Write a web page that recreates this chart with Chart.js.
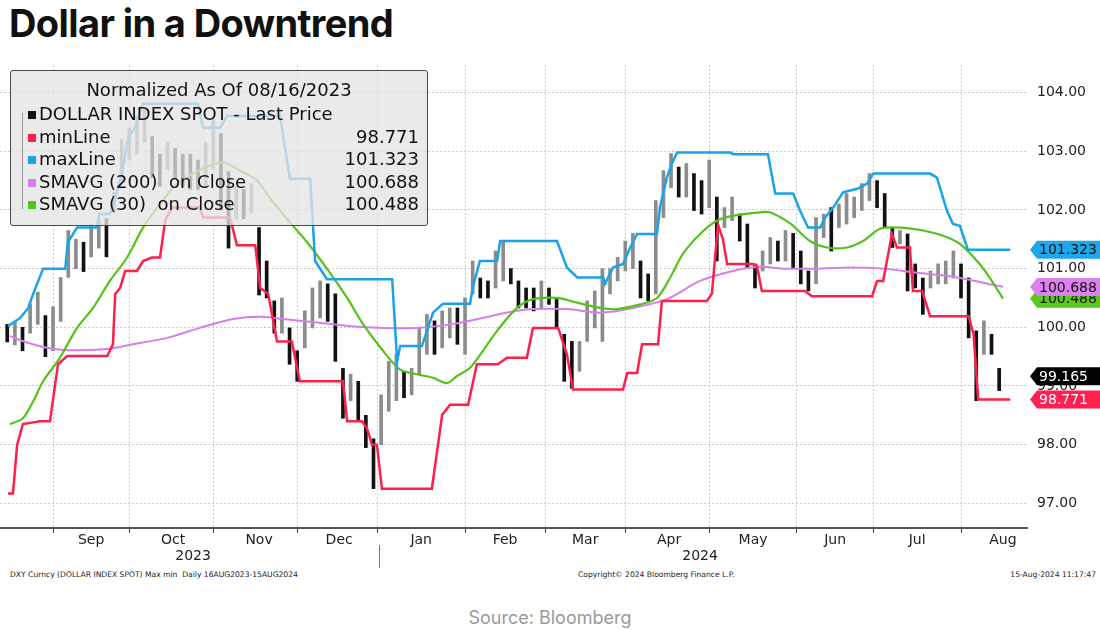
<!DOCTYPE html>
<html>
<head>
<meta charset="utf-8">
<script src="https://cdn.jsdelivr.net/npm/chart.js@4.4.1/dist/chart.umd.min.js"></script>
<style>
  body { margin:0; background:#fff; width:1100px; height:630px; overflow:hidden; position:relative; font-family:"DejaVu Sans", sans-serif; }
  #title { position:absolute; left:9px; top:0px; font-family:Inter, Roboto, sans-serif; font-weight:700; font-size:38px; letter-spacing:-0.6px; color:#111; white-space:nowrap; }
  #wrap { position:absolute; left:0; top:0; width:1100px; height:570px; }
  #legend { position:absolute; left:10px; top:70px; width:416px; height:154px; background:rgba(228,228,228,0.78); border:1.5px solid #4a4a4a; border-radius:3px; font-size:18px; color:#111; }
  #legend .t { position:absolute; left:0; width:100%; text-align:center; top:8px; line-height:22px; }
  #legend .r { position:absolute; left:17px; right:8px; height:22px; line-height:22px; white-space:nowrap; }
  #legend .sq { display:inline-block; width:8px; height:8px; margin-right:3px; vertical-align:1px; }
  #legend .v { position:absolute; right:0; top:0; }
  #tree { position:absolute; left:11px; top:42px; width:1px; height:96px; background:#9a9a9a; }
  .foot { position:absolute; top:570px; font-size:7.6px; color:#222; white-space:nowrap; }
  #source { position:absolute; top:607px; left:0; width:1100px; text-align:center; font-family:Inter, Roboto, sans-serif; font-size:18px; color:#9a9a9a; }
</style>
</head>
<body>
<div id="title">Dollar in a Downtrend</div>
<div id="wrap"><canvas id="c" width="1100" height="570"></canvas></div>
<div id="legend">
  <div class="t">Normalized As Of 08/16/2023</div>
  <div id="tree"></div>
  <div class="r" style="top:32px"><span class="sq" style="background:#111"></span>DOLLAR INDEX SPOT - Last Price</div>
  <div class="r" style="top:55px"><span class="sq" style="background:#ff1f4b"></span>minLine<span class="v" id="v0"></span></div>
  <div class="r" style="top:77px"><span class="sq" style="background:#1aa3e8"></span>maxLine<span class="v" id="v1"></span></div>
  <div class="r" style="top:100px"><span class="sq" style="background:#d77ee8"></span>SMAVG (200)&nbsp; on Close<span class="v" id="v2"></span></div>
  <div class="r" style="top:122px"><span class="sq" style="background:#55c21b"></span>SMAVG (30)&nbsp; on Close<span class="v" id="v3"></span></div>
</div>
<div class="foot" style="left:10px">DXY Curncy (DOLLAR INDEX SPOT) Max min&nbsp; Daily 16AUG2023-15AUG2024</div>
<div class="foot" style="left:578px">Copyright© 2024 Bloomberg Finance L.P.</div>
<div class="foot" style="right:4px">15-Aug-2024 11:17:47</div>
<div id="source">Source: Bloomberg</div>
<script>
// ---- axis labels / ticks (trading-day index from 16 Aug 2023) ----
const monthStarts = [12, 32, 54, 76, 97, 120, 141, 162, 184, 207, 227, 250];
const monthMids   = [22, 43.5, 66, 87, 108.5, 130.5, 151.5, 173.5, 195.5, 217, 238.5, 261];
const monthLabels = ['Sep','Oct','Nov','Dec','Jan','Feb','Mar','Apr','May','Jun','Jul','Aug'];
const yearMids    = [48.7, 181.6];
const yearLabels  = ['2023', '2024'];
const yearSplit   = 97.5;
const yTicks      = [97, 98, 99, 100, 101, 102, 103, 104];

// ---- DXY price bars, one per two trading days (low / high) ----
const barLow = [99.75,99.70,99.60,99.90,100.05,99.50,99.60,100.10,100.85,101.00,100.95,101.20,101.35,101.20,101.95,102.50,102.85,102.95,103.15,102.55,102.40,102.70,102.55,102.40,102.35,102.35,102.40,102.70,102.00,101.35,101.85,101.85,101.95,100.55,100.50,99.90,99.90,99.37,99.08,99.65,99.99,100.16,100.10,99.42,98.45,98.75,98.40,97.95,97.25,98.00,98.57,98.75,98.80,98.85,99.20,99.54,99.54,99.65,99.82,99.71,99.54,100.57,100.50,100.50,100.67,100.79,100.74,100.33,100.33,100.28,100.33,100.39,99.99,99.08,98.96,99.25,99.76,99.99,99.76,100.57,100.79,100.96,101.00,100.50,100.45,100.57,101.87,102.38,102.22,102.22,101.99,101.93,102.04,101.13,101.70,101.82,101.47,101.00,100.67,100.96,101.08,101.13,101.13,101.00,100.74,100.62,100.74,101.53,101.30,101.70,101.76,101.87,101.99,102.16,102.04,101.70,101.36,101.42,100.62,100.67,100.22,100.67,100.74,100.74,100.84,100.50,99.82,98.75,99.54,99.54,98.92];
const barHigh = [100.05,100.10,100.00,100.40,100.60,100.20,100.35,100.85,101.65,101.50,101.45,101.75,101.85,101.85,102.30,103.20,103.40,103.60,103.75,103.25,102.95,103.15,103.05,102.95,102.95,102.85,103.15,103.55,103.30,102.65,102.40,102.35,102.45,101.70,101.13,100.45,100.50,99.99,99.60,100.28,100.67,100.79,100.74,100.57,99.30,99.20,99.08,98.50,98.10,98.85,99.42,99.54,99.25,99.30,99.99,100.22,100.11,100.28,100.33,100.33,100.50,101.13,100.84,100.79,101.30,101.47,101.00,100.79,100.67,100.67,100.79,100.67,100.50,99.88,99.76,99.76,100.45,100.62,101.00,101.00,101.19,101.47,101.60,101.13,100.91,102.16,102.67,102.96,102.73,102.79,102.62,102.50,102.85,102.22,102.04,102.22,101.93,101.76,101.08,101.30,101.53,101.47,101.65,101.60,101.30,100.96,101.87,101.93,102.04,102.10,102.28,102.22,102.45,102.62,102.50,102.28,101.70,101.65,101.59,101.08,100.84,100.96,101.08,101.13,101.30,101.08,100.84,99.94,100.11,99.88,99.30];

// ---- maxLine / minLine breakpoints (trading-day index, value) ----
const maxDay = [0.2,3.4,5.5,6.8,9.4,15.2,15.9,18.3,23.5,24.1,26.9,28.0,28.8,30.4,31.7,33.5,35.6,50.0,51.3,55.8,57.6,71.5,74.1,79.4,80.7,83.8,100.9,102.2,103.0,108.7,111.6,114.2,121.3,122.1,123.9,128.4,129.2,144.1,146.7,149.4,156.2,156.7,158.8,161.4,163.3,165.1,170.3,171.1,172.9,174.2,175.6,189.5,190.3,199.4,201.3,206.0,207.8,209.9,213.1,214.4,216.5,219.1,222.8,225.4,227.0,241.9,243.7,246.3,247.9,249.7,251.8,262.9];
const maxVal = [100.02,100.16,100.33,100.57,101.0,101.0,101.45,101.7,101.7,101.93,101.93,102.1,102.33,102.73,103.24,103.4,103.81,103.81,103.4,103.4,103.6,103.6,102.53,102.53,101.13,100.82,100.82,99.42,99.68,99.68,100.25,100.4,100.4,100.7,101.13,101.13,101.47,101.47,101.02,100.85,100.85,100.74,101.02,101.08,101.36,101.59,101.59,102.05,102.55,102.79,102.98,102.98,102.95,102.95,102.28,102.28,101.99,101.7,101.7,101.87,102.04,102.3,102.36,102.45,102.62,102.62,102.55,101.99,101.76,101.73,101.323,101.323];
const minDay = [0.2,1.5,2.6,4.1,6.8,8.6,11.2,13.3,15.7,26.2,27.7,28.3,29.6,30.9,34.0,35.6,37.9,40.05,41.4,43.2,50.5,51.3,58.4,60.2,65.0,66.3,68.4,70.7,74.6,76.7,88.0,89.1,93.0,94.3,95.6,96.9,98.2,111.3,114.0,116.1,120.8,123.1,128.6,131.0,136.2,137.8,144.4,146.7,148.3,161.4,162.5,165.1,166.4,170.6,171.6,183.4,184.7,186.3,187.6,188.7,195.5,196.5,197.8,209.1,210.9,226.7,228.0,229.6,231.9,233.2,236.6,237.4,239.8,241.9,252.0,253.3,254.5,262.9];
const minVal = [97.17,97.17,98.0,98.35,98.38,98.4,98.4,99.37,99.51,99.51,99.71,100.57,100.67,100.96,100.96,101.13,101.19,101.19,101.82,102.04,102.04,101.87,101.87,101.4,101.4,100.67,100.57,99.76,99.76,99.08,99.08,98.4,98.4,98.28,98.0,98.0,97.25,97.25,98.51,98.68,98.68,99.37,99.37,99.48,99.48,99.99,99.99,99.54,98.94,98.94,99.22,99.22,99.71,99.71,100.45,100.45,100.57,101.75,101.5,101.08,101.08,101.05,100.62,100.62,100.53,100.53,100.79,100.79,101.59,101.36,101.36,100.62,100.62,100.19,100.19,99.88,98.771,98.771];

// ---- moving averages (trading-day index, value) ----
const sma30Day = [0.7,4.1,6.8,9.4,13.8,18.3,22.5,26.9,31.4,35.6,40.05,44.5,48.7,53.2,56.6,61.0,65.5,68.9,73.3,78.6,83.8,89.1,93.3,98.5,103.0,107.4,111.6,115.3,117.9,121.3,124.7,128.4,133.6,137.8,144.1,149.4,155.4,159.8,165.9,170.3,173.7,177.1,181.6,186.1,190.2,197.3,199.9,205.2,210.4,214.9,220.1,224.3,228.8,234.0,240.0,245.3,249.7,254.2,257.6,261.0];
const sma30Val = [98.35,98.45,98.74,99.08,99.48,99.99,100.33,100.79,101.19,101.7,102.1,102.45,102.62,102.76,102.81,102.67,102.5,102.2,101.85,101.45,101.0,100.5,100.05,99.6,99.28,99.2,99.14,99.05,99.17,99.31,99.6,99.94,100.33,100.48,100.5,100.42,100.33,100.31,100.39,100.5,100.84,101.25,101.59,101.82,101.9,101.96,101.96,101.77,101.47,101.36,101.36,101.47,101.68,101.7,101.65,101.56,101.42,101.13,100.84,100.488];
const sma200Day = [0.7,5.2,10.4,15.7,26.2,33.0,41.9,50.5,59.2,66.3,72.3,81.2,89.9,98.5,107.4,116.1,124.7,131.8,137.8,146.7,155.4,164.0,172.9,181.6,190.2,197.3,203.4,212.3,220.9,229.6,238.5,247.1,255.8,261.0];
const sma200Val = [99.85,99.74,99.65,99.61,99.63,99.71,99.82,99.99,100.14,100.18,100.14,100.08,100.02,99.99,99.99,100.05,100.16,100.26,100.31,100.31,100.25,100.33,100.48,100.79,100.96,101.03,101.0,101.0,101.02,101.0,100.93,100.87,100.76,100.688];

// ---- last values shown in legend and right-hand tags ----
const lastPrice = 99.165, lastMin = 98.771, lastMax = 101.323, lastSma200 = 100.688, lastSma30 = 100.488;

const C = { max:'#1aa3e8', min:'#ff1f4b', s200:'#d77ee8', s30:'#55c21b' };
document.getElementById('v0').textContent = lastMin.toFixed(3);
document.getElementById('v1').textContent = lastMax.toFixed(3);
document.getElementById('v2').textContent = lastSma200.toFixed(3);
document.getElementById('v3').textContent = lastSma30.toFixed(3);

const pts = (xs, ys) => xs.map((x, k) => ({ x, y: ys[k] }));
const barData = barLow.map((lo, k) => ({ x: k * 2, y: [lo, barHigh[k]] }));
const barColors = barLow.map((lo, k) => {
  if (k === 0) return '#111';
  const m = (lo + barHigh[k]) / 2, p = (barLow[k-1] + barHigh[k-1]) / 2;
  return m >= p ? '#8c8c8c' : '#111';
});

const XMIN = -1.9, XMAX = 267.3;
const tags = [
  { v: lastMax, bg: '#1ea7ea', fg: '#111' },
  { v: lastSma30, bg: '#5ac81c', fg: '#111' },
  { v: lastSma200, bg: '#dc82ee', fg: '#111' },
  { v: lastPrice, bg: '#000', fg: '#fff' },
  { v: lastMin, bg: '#ff2050', fg: '#fff' }
];

const tagPlugin = {
  id: 'tags',
  afterDraw(chart) {
    const { ctx, chartArea } = chart;
    const y = chart.scales.y;
    const left = chartArea.right + 3;
    tags.forEach(t => {
      const py = y.getPixelForValue(t.v);
      ctx.save();
      ctx.fillStyle = t.bg;
      ctx.beginPath();
      ctx.moveTo(left, py);
      ctx.lineTo(left + 7, py - 9);
      ctx.lineTo(chart.width, py - 9);
      ctx.lineTo(chart.width, py + 9);
      ctx.lineTo(left + 7, py + 9);
      ctx.closePath();
      ctx.fill();
      ctx.fillStyle = t.fg;
      ctx.font = '14px "DejaVu Sans"';
      ctx.textBaseline = 'middle';
      ctx.textAlign = 'left';
      ctx.fillText(t.v.toFixed(3), left + 9, py + 1);
      ctx.restore();
    });
    // year separator
    const xs = chart.scales.x, xm = chart.scales.xm, xy = chart.scales.xy;
    const px = Math.round(xs.getPixelForValue(yearSplit)) + 0.5;
    ctx.save();
    ctx.strokeStyle = '#777';
    ctx.lineWidth = 1;
    ctx.beginPath();
    ctx.moveTo(px, xm.top + 11);
    ctx.lineTo(px, xy.bottom);
    ctx.stroke();
    ctx.restore();
  }
};

Chart.defaults.font.family = '"DejaVu Sans", sans-serif';
Chart.defaults.color = '#222';

new Chart(document.getElementById('c'), {
  type: 'bar',
  data: {
    datasets: [
      { type: 'line', label: 'SMAVG (200) on Close', data: pts(sma200Day, sma200Val), borderColor: C.s200, borderWidth: 2, pointRadius: 0, tension: 0.3, order: 4 },
      { type: 'line', label: 'SMAVG (30) on Close', data: pts(sma30Day, sma30Val), borderColor: C.s30, borderWidth: 2.2, pointRadius: 0, tension: 0.3, order: 3 },
      { type: 'line', label: 'minLine', data: pts(minDay, minVal), borderColor: C.min, borderWidth: 2.5, pointRadius: 0, tension: 0, order: 2 },
      { type: 'line', label: 'maxLine', data: pts(maxDay, maxVal), borderColor: C.max, borderWidth: 2.5, pointRadius: 0, tension: 0, order: 1 },
      { type: 'bar', label: 'DOLLAR INDEX SPOT - Last Price', data: barData, backgroundColor: barColors, barThickness: 3, grouped: false, order: 10 }
    ]
  },
  options: {
    responsive: false,
    animation: false,
    events: [],
    layout: { padding: { top: 65, left: 0, right: 0, bottom: 2 } },
    plugins: { legend: { display: false }, tooltip: { enabled: false } },
    scales: {
      x: {
        type: 'linear', position: 'bottom', min: XMIN, max: XMAX, offset: false, weight: 0,
        afterBuildTicks: s => { s.ticks = monthStarts.map(v => ({ value: v })); },
        afterFit: s => { s.height = 6; },
        ticks: { display: false },
        grid: { color: '#c8c8c8', lineWidth: 1, tickLength: 5, tickColor: '#444', offset: false },
        border: { display: true, color: '#555', width: 2, dash: [2, 2] }
      },
      xm: {
        type: 'linear', position: 'bottom', min: XMIN, max: XMAX, offset: false, weight: 1,
        afterBuildTicks: s => { s.ticks = monthMids.map(v => ({ value: v })); },
        afterFit: s => { s.height = 16; },
        ticks: { autoSkip: false, maxRotation: 0, padding: -2, font: { size: 14 }, color: '#222', callback: (v, i) => monthLabels[i] },
        grid: { display: false, drawTicks: false },
        border: { display: false }
      },
      xy: {
        type: 'linear', position: 'bottom', min: XMIN, max: XMAX, offset: false, weight: 2,
        afterBuildTicks: s => { s.ticks = yearMids.map(v => ({ value: v })); },
        afterFit: s => { s.height = 18; },
        ticks: { autoSkip: false, maxRotation: 0, padding: -2, font: { size: 14 }, color: '#222', callback: (v, i) => yearLabels[i] },
        grid: { display: false, drawTicks: false },
        border: { display: false }
      },
      y: {
        type: 'linear', position: 'right', min: 96.58, max: 104.47,
        afterBuildTicks: s => { s.ticks = yTicks.map(v => ({ value: v })); },
        afterFit: s => { s.width = 73; },
        ticks: { padding: 10, font: { size: 14 }, color: '#222', callback: v => Number(v).toFixed(2) },
        grid: { color: '#c8c8c8', lineWidth: 1, drawTicks: false },
        border: { display: false, dash: [2, 2] }
      }
    }
  },
  plugins: [tagPlugin]
});
</script>
</body>
</html>
